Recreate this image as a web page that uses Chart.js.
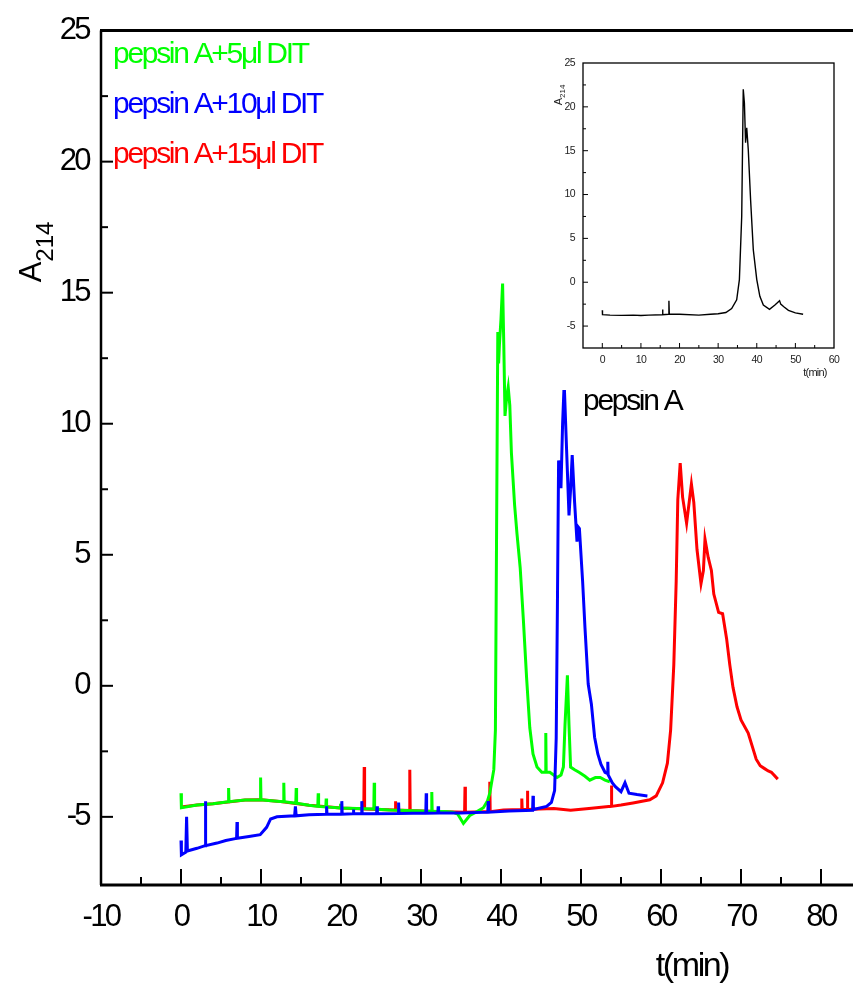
<!DOCTYPE html>
<html>
<head>
<meta charset="utf-8">
<script src="https://cdn.jsdelivr.net/npm/chart.js@4.4.1/dist/chart.umd.min.js"></script>
<style>
  html, body { margin: 0; padding: 0; background: #fff; }
  #wrap { position: relative; width: 853px; height: 986px; overflow: hidden; }
  #main { position: absolute; left: 0; top: 0; }
  #inset { position: absolute; left: 530px; top: 45px; }
</style>
</head>
<body>
<div id="wrap">
  <canvas id="main" width="853" height="986"></canvas>
  <canvas id="inset" width="323" height="345"></canvas>
</div>
<script>
// series labels (main chart)
const seriesLabels = ['pepsin A+5μl DIT', 'pepsin A+10μl DIT', 'pepsin A+15μl DIT'];
const insetLabel = 'pepsin A';

// tick labels
const xTickValues = [-10, 0, 10, 20, 30, 40, 50, 60, 70, 80];
const yTickValues = [-5, 0, 5, 10, 15, 20, 25];
const insetXTickValues = [0, 10, 20, 30, 40, 50, 60];
const insetYTickValues = [-5, 0, 5, 10, 15, 20, 25];

// [t (min), A214]
const green5ul = [
  [0, -4.1], [0.05, -4.65], [2, -4.55], [4, -4.5], [5.9, -4.42], [5.95, -3.9], [6, -4.42],
  [8, -4.36], [9.9, -4.35], [9.95, -3.5], [10, -4.35], [12, -4.4], [12.8, -4.42], [12.85, -3.7],
  [12.9, -4.42], [14.35, -4.48], [14.4, -3.9], [14.45, -4.48], [16, -4.56], [17.1, -4.6],
  [17.15, -4.1], [17.2, -4.6], [18.1, -4.62], [18.15, -4.3], [18.2, -4.62], [19.9, -4.66],
  [19.95, -4.5], [20, -4.66], [22, -4.68], [24.1, -4.7], [24.15, -3.7], [24.2, -4.7],
  [26, -4.74], [28, -4.76], [30, -4.78], [31.3, -4.8], [31.35, -4.05], [31.4, -4.8], [33, -4.8],
  [34, -4.82], [34.6, -4.9], [35.3, -5.25], [36.1, -4.95], [37, -4.8], [37.8, -4.65],
  [38.3, -4.4], [38.6, -4.1], [39.1, -3.2], [39.3, -1.7], [39.45, 6], [39.6, 13.5], [39.7, 12.3],
  [39.8, 13], [40, 14], [40.2, 15.35], [40.35, 13], [40.5, 10.3], [40.7, 11], [40.9, 11.4],
  [41.1, 10.7], [41.3, 8.9], [41.5, 7.9], [41.7, 6.9], [42, 5.8], [42.4, 4.5], [42.8, 2.5],
  [43.2, 0.3], [43.6, -1.6], [44, -2.6], [44.5, -3.1], [45.1, -3.3], [45.55, -3.3], [45.6, -1.8],
  [45.65, -3.3], [46.1, -3.3], [47, -3.5], [47.5, -3.4], [47.8, -3.1], [48, -1.5], [48.3, 0.4],
  [48.5, -1.5], [48.7, -3.1], [49.2, -3.2], [49.75, -3.3], [50.5, -3.45], [51.1, -3.6],
  [51.8, -3.5], [52.4, -3.5], [53, -3.6], [53.6, -3.66]
];

const blue10ul = [
  [0, -5.9], [0.05, -6.45], [0.6, -6.35], [0.7, -5.0], [0.8, -6.3], [2, -6.2], [3, -6.1],
  [3.05, -4.4], [3.1, -6.1], [4.5, -6.0], [5.6, -5.9], [6.95, -5.82], [7, -5.2], [7.05, -5.82],
  [8.5, -5.75], [9.9, -5.68], [10.7, -5.4], [11.2, -5.08], [12, -5.0], [14.2, -4.96],
  [14.3, -4.6], [14.4, -4.96], [16, -4.92], [18.15, -4.9], [18.2, -4.6], [18.25, -4.9],
  [20.05, -4.9], [20.1, -4.4], [20.15, -4.9], [21.5, -4.88], [21.55, -4.72], [21.6, -4.88],
  [22.55, -4.88], [22.6, -4.4], [22.65, -4.88], [24.45, -4.88], [24.5, -4.6], [24.55, -4.88],
  [27.15, -4.87], [27.2, -4.45], [27.25, -4.87], [29, -4.86], [30.6, -4.86], [30.65, -4.1],
  [30.7, -4.86], [32.1, -4.85], [32.15, -4.6], [32.2, -4.85], [35, -4.85], [38.35, -4.82],
  [38.4, -4.4], [38.45, -4.82], [41, -4.78], [43.95, -4.75], [44, -4.2], [44.05, -4.72],
  [45.7, -4.6], [46.3, -4.45], [46.7, -4.0], [46.9, -2.0], [47.05, 3.0], [47.2, 8.6],
  [47.35, 7.6], [47.5, 7.6], [47.7, 10], [47.9, 11.55], [48.2, 9], [48.5, 6.5], [48.7, 7.5],
  [48.9, 8.8], [49.2, 7], [49.5, 5.5], [49.65, 6.06], [49.8, 6.0], [50.2, 4.0], [50.5, 2.2],
  [50.9, 0.07], [51.3, -0.7], [51.7, -1.96], [52.1, -2.6], [52.5, -3.0], [53, -3.3],
  [53.3, -3.35], [53.35, -2.9], [53.4, -3.4], [53.9, -3.7], [54.3, -3.85], [55, -4.04],
  [55.5, -3.7], [56, -4.1], [57, -4.15], [58.3, -4.2]
];

const red15ul = [
  [0, -4.62], [2, -4.55], [4, -4.5], [8, -4.36], [10, -4.35], [12, -4.4], [16, -4.56],
  [20, -4.66], [22.85, -4.7], [22.9, -3.1], [22.95, -4.7], [26.75, -4.74], [26.8, -4.4],
  [26.85, -4.74], [28.55, -4.76], [28.6, -3.2], [28.65, -4.76], [32, -4.8], [35.45, -4.82],
  [35.5, -3.85], [35.55, -4.82], [38.55, -4.8], [38.6, -3.66], [38.65, -4.8], [40.3, -4.74],
  [42.55, -4.72], [42.6, -4.3], [42.65, -4.72], [43.25, -4.72], [43.3, -4.0], [43.35, -4.72],
  [46.6, -4.68], [48.7, -4.75], [51, -4.68], [53.75, -4.6], [53.8, -3.8], [53.85, -4.6],
  [55, -4.55], [56.5, -4.47], [58.6, -4.35], [59.4, -4.2], [60.2, -3.7], [60.8, -2.95],
  [61.2, -1.7], [61.6, 0.8], [61.9, 4.0], [62.1, 7.1], [62.4, 8.5], [62.7, 7.2], [63.2, 6.2],
  [63.8, 7.7], [64.1, 7.0], [64.5, 5.2], [65, 3.9], [65.3, 4.4], [65.5, 5.6], [65.9, 4.9],
  [66.3, 4.4], [66.6, 3.5], [67.2, 2.8], [67.7, 2.75], [68.2, 1.8], [68.6, 0.8], [69, -0.06],
  [69.5, -0.8], [70, -1.3], [70.9, -1.8], [71.4, -2.3], [71.9, -2.8], [72.4, -3.05],
  [72.9, -3.15], [73.4, -3.25], [73.8, -3.3], [74.6, -3.56]
];

// inset: pepsin A alone
const pepsinA = [
  [0, -3.2], [0.05, -3.7], [2, -3.75], [5, -3.78], [8, -3.75], [10, -3.8], [12, -3.75],
  [15.5, -3.7], [15.6, -3.1], [15.7, -3.7], [17.15, -3.65], [17.25, -2.1], [17.35, -3.65],
  [20, -3.65], [25, -3.75], [28, -3.65], [30, -3.6], [32, -3.45], [33.5, -3.0], [34.8, -2.0],
  [35.5, 0.3], [36.1, 7.5], [36.5, 22], [36.8, 20.4], [37.1, 15.9], [37.4, 17.6], [37.8, 15.1],
  [38.4, 9.4], [39.1, 3.7], [40, 0.3], [40.8, -1.6], [41.7, -2.6], [43.3, -3.1], [44.7, -2.6],
  [45.9, -2.1], [46.2, -2.5], [47, -2.8], [48.2, -3.2], [50, -3.5], [52, -3.65]
];

const SANS = "'Liberation Sans', Arial, sans-serif";

function toXY(pts) { return pts.map(p => ({ x: p[0], y: p[1] })); }

function line(ctx, x1, y1, x2, y2) {
  ctx.beginPath();
  ctx.moveTo(x1, y1);
  ctx.lineTo(x2, y2);
  ctx.stroke();
}

// rotated "A" + subscript
function drawRotTitle(ctx, x, y, main, sub, mainFont, subFont, drop) {
  ctx.save();
  ctx.translate(x, y);
  ctx.rotate(-Math.PI / 2);
  ctx.font = mainFont;
  const w1 = ctx.measureText(main).width;
  ctx.font = subFont;
  const w2 = ctx.measureText(sub).width;
  const start = -(w1 + w2) / 2;
  ctx.textAlign = 'left';
  ctx.textBaseline = 'alphabetic';
  ctx.font = mainFont;
  ctx.fillText(main, start, 0);
  ctx.font = subFont;
  ctx.fillText(sub, start + w1, drop);
  ctx.restore();
}

const mainDecor = {
  id: 'mainDecor',
  beforeDraw(chart) {
    // the original lettering is very condensed
    chart.ctx.letterSpacing = '-2.6px';
  },
  afterDraw(chart) {
    const { ctx, chartArea: a, scales: { x, y } } = chart;
    ctx.save();
    ctx.strokeStyle = '#000';
    ctx.lineWidth = 3;
    line(ctx, a.left - 1, a.bottom, a.right, a.bottom);
    line(ctx, a.left - 1, a.top, a.right, a.top);
    ctx.lineWidth = 2.5;
    line(ctx, a.left, a.top, a.left, a.bottom);

    // inward ticks
    ctx.lineWidth = 2;
    xTickValues.forEach(v => {
      [v, v + 5].forEach((t, i) => {
        const px = x.getPixelForValue(t);
        if (px <= a.left + 1 || px >= a.right) return;
        line(ctx, px, a.bottom, px, a.bottom - (i === 0 ? 16 : 8));
      });
    });
    yTickValues.forEach(v => {
      [v, v - 2.5].forEach((t, i) => {
        const py = y.getPixelForValue(t);
        if (py > a.bottom - 3) return;
        line(ctx, a.left, py, a.left + (i === 0 ? 12 : 7), py);
      });
    });

    // axis titles
    ctx.fillStyle = '#000';
    ctx.letterSpacing = '0px';
    drawRotTitle(ctx, 41, 252, 'A', '214', '31px ' + SANS, '24px ' + SANS, 12);
    ctx.letterSpacing = '-2.4px';
    ctx.font = '34px ' + SANS;
    ctx.textAlign = 'center';
    ctx.textBaseline = 'alphabetic';
    ctx.fillText('t(min)', 692, 976);

    // legend texts
    const legendColors = ['#00ff00', '#0000ff', '#ff0000'];
    ctx.font = '30px ' + SANS;
    ctx.letterSpacing = '-2.3px';
    ctx.textAlign = 'left';
    seriesLabels.forEach((s, i) => {
      ctx.fillStyle = legendColors[i];
      ctx.fillText(s, 113, 63 + i * 50);
    });
    ctx.fillStyle = '#000';
    ctx.fillText(insetLabel, 583, 410);
    ctx.restore();
  }
};

new Chart(document.getElementById('main'), {
  type: 'line',
  data: {
    datasets: [
      { label: seriesLabels[1], data: toXY(blue10ul), borderColor: '#0000ff' },
      { label: seriesLabels[0], data: toXY(green5ul), borderColor: '#00ff00' },
      { label: seriesLabels[2], data: toXY(red15ul), borderColor: '#ff0000' }
    ]
  },
  options: {
    responsive: false,
    animation: false,
    events: [],
    layout: { padding: { top: 25, right: 0, left: 0, bottom: 0 } },
    plugins: { legend: { display: false }, tooltip: { enabled: false } },
    elements: { point: { radius: 0 }, line: { borderWidth: 3, tension: 0, fill: false } },
    scales: {
      x: {
        type: 'linear', min: -10, max: 84,
        afterFit: s => { s.height = 101; },
        afterBuildTicks: s => { s.ticks = xTickValues.map(v => ({ value: v })); },
        grid: { display: false, drawTicks: false, tickLength: 0 },
        border: { display: false },
        ticks: { padding: 14, maxRotation: 0, autoSkip: false, color: '#000', font: { family: SANS, size: 31 } }
      },
      y: {
        type: 'linear', min: -7.6, max: 25,
        afterFit: s => { s.width = 101; },
        afterBuildTicks: s => { s.ticks = yTickValues.map(v => ({ value: v })); },
        grid: { display: false, drawTicks: false, tickLength: 0 },
        border: { display: false },
        ticks: { padding: 12, autoSkip: false, color: '#000', font: { family: SANS, size: 31 } }
      }
    }
  },
  plugins: [mainDecor]
});

const insetDecor = {
  id: 'insetDecor',
  beforeDraw(chart) {
    const { ctx, width, height } = chart;
    ctx.save();
    ctx.fillStyle = '#fff';
    ctx.fillRect(0, 0, width, height);
    ctx.restore();
    ctx.letterSpacing = '-0.6px';
  },
  afterDraw(chart) {
    const { ctx, chartArea: a, scales: { x, y } } = chart;
    ctx.save();
    ctx.strokeStyle = '#000';
    ctx.lineWidth = 1.3;
    ctx.strokeRect(a.left, a.top, a.right - a.left, a.bottom - a.top);
    ctx.lineWidth = 1;
    insetXTickValues.forEach(v => {
      [v, v - 5].forEach((t, i) => {
        const px = x.getPixelForValue(t);
        if (px <= a.left + 1 || px >= a.right - 1) return;
        line(ctx, px, a.bottom, px, a.bottom - (i === 0 ? 5 : 3));
      });
    });
    insetYTickValues.forEach(v => {
      [v, v - 2.5].forEach((t, i) => {
        const py = y.getPixelForValue(t);
        if (py <= a.top + 1 || py >= a.bottom - 1) return;
        line(ctx, a.left, py, a.left + (i === 0 ? 5 : 3), py);
      });
    });
    ctx.fillStyle = '#222';
    ctx.letterSpacing = '0px';
    drawRotTitle(ctx, 32, 50, 'A', '214', '11px ' + SANS, '8px ' + SANS, 3);
    ctx.letterSpacing = '-0.8px';
    ctx.font = '11px ' + SANS;
    ctx.textAlign = 'center';
    ctx.fillText('t(min)', 285, 331);
    ctx.restore();
  }
};

new Chart(document.getElementById('inset'), {
  type: 'line',
  data: {
    datasets: [{ label: insetLabel, data: toXY(pepsinA), borderColor: '#000' }]
  },
  options: {
    responsive: false,
    animation: false,
    events: [],
    layout: { padding: { top: 18, right: 19, left: 0, bottom: 0 } },
    plugins: { legend: { display: false }, tooltip: { enabled: false } },
    elements: { point: { radius: 0 }, line: { borderWidth: 1.4, tension: 0, fill: false } },
    scales: {
      x: {
        type: 'linear', min: -5, max: 60,
        afterFit: s => { s.height = 42; },
        afterBuildTicks: s => { s.ticks = insetXTickValues.map(v => ({ value: v })); },
        grid: { display: false, drawTicks: false, tickLength: 0 },
        border: { display: false },
        ticks: { padding: 6, maxRotation: 0, autoSkip: false, color: '#222', font: { family: SANS, size: 10.5 } }
      },
      y: {
        type: 'linear', min: -7.5, max: 25,
        afterFit: s => { s.width = 53; },
        afterBuildTicks: s => { s.ticks = insetYTickValues.map(v => ({ value: v })); },
        grid: { display: false, drawTicks: false, tickLength: 0 },
        border: { display: false },
        ticks: { padding: 8, autoSkip: false, color: '#222', font: { family: SANS, size: 10.5 } }
      }
    }
  },
  plugins: [insetDecor]
});
</script>
</body>
</html>
